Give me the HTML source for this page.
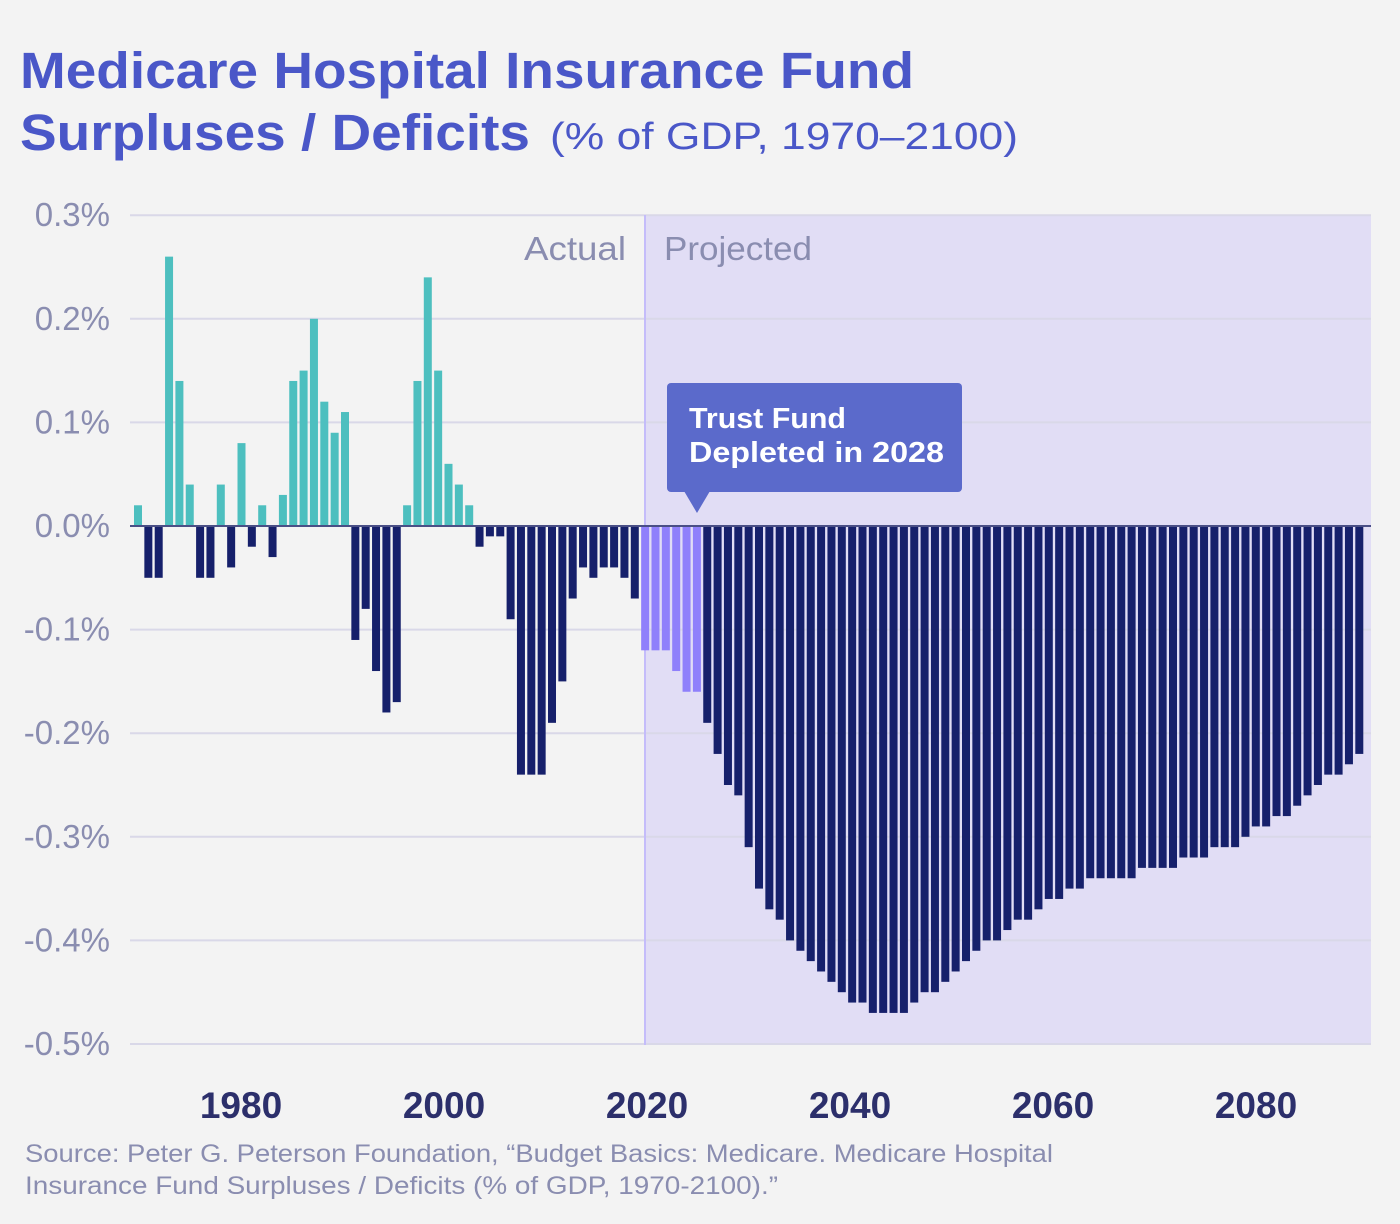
<!DOCTYPE html>
<html><head><meta charset="utf-8"><style>
body{margin:0;background:#f3f3f3;}
svg{display:block;font-family:"Liberation Sans",sans-serif;}
</style></head><body>
<svg id="chart" width="1400" height="1224" viewBox="0 0 1400 1224" xmlns="http://www.w3.org/2000/svg">
<rect width="1400" height="1224" fill="#f3f3f3"/>
<text x="20" y="88" font-size="51" font-weight="bold" fill="#4a57c8" textLength="894" lengthAdjust="spacingAndGlyphs">Medicare Hospital Insurance Fund</text>
<text x="20" y="150" font-size="51" font-weight="bold" fill="#4a57c8" textLength="510" lengthAdjust="spacingAndGlyphs">Surpluses / Deficits</text>
<text x="550" y="149" font-size="38" fill="#4a57c8" textLength="468" lengthAdjust="spacingAndGlyphs">(% of GDP, 1970–2100)</text>
<rect x="645" y="215" width="726" height="830" fill="#e1ddf5"/>
<g id="grid"></g>
<line x1="645" y1="215" x2="645" y2="1045" stroke="#c4bcfa" stroke-width="2"/>
<text x="626" y="260" font-size="33" fill="#8a8db0" text-anchor="end" textLength="102" lengthAdjust="spacingAndGlyphs">Actual</text>
<text x="664" y="260" font-size="33" fill="#8a8db0" textLength="148" lengthAdjust="spacingAndGlyphs">Projected</text>
<g id="bars"></g>
<line x1="130" y1="526" x2="1371" y2="526" stroke="#4a4f86" stroke-width="2"/>
<g id="xlabels"></g>
<g>
<rect x="667" y="383" width="295" height="109" rx="4" fill="#5b6acb"/>
<path d="M684 491 L710 491 L697 513 Z" fill="#5b6acb"/>
<text x="689" y="428" font-size="29" font-weight="bold" fill="#fff" textLength="157" lengthAdjust="spacingAndGlyphs">Trust Fund</text>
<text x="689" y="462" font-size="29" font-weight="bold" fill="#fff" textLength="255" lengthAdjust="spacingAndGlyphs">Depleted in 2028</text>
</g>
<text x="25" y="1162" font-size="25" fill="#8a8db0" textLength="1028" lengthAdjust="spacingAndGlyphs">Source: Peter G. Peterson Foundation, “Budget Basics: Medicare. Medicare Hospital</text>
<text x="25" y="1194" font-size="25" fill="#8a8db0" textLength="753" lengthAdjust="spacingAndGlyphs">Insurance Fund Surpluses / Deficits (% of GDP, 1970-2100).”</text>
</svg>
<script>
const startYear = 1970;
const actualValues = [0.02,-0.05,-0.05,0.26,0.14,0.04,-0.05,-0.05,0.04,-0.04,
0.08,-0.02,0.02,-0.03,0.03,0.14,0.15,0.20,0.12,0.09,
0.11,-0.11,-0.08,-0.14,-0.18,-0.17,0.02,0.14,0.24,0.15,
0.06,0.04,0.02,-0.02,-0.01,-0.01,-0.09,-0.24,-0.24,-0.24,
-0.19,-0.15,-0.07,-0.04,-0.05,-0.04,-0.04,-0.05,-0.07];
const preDepletionValues = [-0.12,-0.12,-0.12,-0.14,-0.16,-0.16];
const postDepletionValues = [-0.19,-0.22,-0.25,-0.26,-0.31,-0.35,-0.37,-0.38,-0.40,-0.41,-0.42,-0.43,-0.44,-0.45,-0.46,-0.46,-0.47,-0.47,-0.47,-0.47,-0.46,-0.45,-0.45,-0.44,-0.43,-0.42,-0.41,-0.40,-0.40,-0.39,-0.38,-0.38,
-0.37,-0.36,-0.36,-0.35,-0.35,-0.34,-0.34,-0.34,-0.34,-0.34,-0.33,-0.33,-0.33,-0.33,-0.32,-0.32,-0.32,-0.31,-0.31,-0.31,-0.30,-0.29,-0.29,-0.28,-0.28,-0.27,-0.26,-0.25,-0.24,-0.24,-0.23,-0.22];
const yTicks = [0.3,0.2,0.1,0.0,-0.1,-0.2,-0.3,-0.4,-0.5];
const yTickLabels = ["0.3%","0.2%","0.1%","0.0%","-0.1%","-0.2%","-0.3%","-0.4%","-0.5%"];
const xTickYears = [1980,2000,2020,2040,2060,2080];

const NS="http://www.w3.org/2000/svg";
function xScale(i){return 138+i*10.35;}
function xLabelScale(yr){return 241+(yr-1980)*10.15;}
function yScale(v){return 526-v*1036;}
function mk(tag,attrs,parent){const e=document.createElementNS(NS,tag);for(const k in attrs)e.setAttribute(k,attrs[k]);parent.appendChild(e);return e;}

const grid=document.getElementById('grid');
yTicks.forEach((t,k)=>{
  const y=yScale(t);
  const l=mk('line',{x1:130,x2:1371,y1:y,y2:y,stroke:'#d9d8e8','stroke-width':2},grid);
  
  
  const tx=mk('text',{x:110,y:y+11,'font-size':33,fill:'#8a8db0','text-anchor':'end'},grid);
  tx.textContent=yTickLabels[k];
  
  
});

const bars=document.getElementById('bars');
function drawBar(i,v,color){
  const y0=yScale(0),y1=yScale(v);
  const r=mk('rect',{x:xScale(i)-4,y:Math.min(y0,y1),width:8,height:Math.abs(y1-y0),fill:color},bars);
  
  
}
actualValues.forEach((v,i)=>drawBar(i,v,v>=0?'#4dbfbf':'#16206b'));
preDepletionValues.forEach((v,j)=>drawBar(actualValues.length+j,v,'#8f80fb'));
postDepletionValues.forEach((v,j)=>drawBar(actualValues.length+preDepletionValues.length+j,v,'#16206b'));

const xl=document.getElementById('xlabels');
xTickYears.forEach(yr=>{
  const t=mk('text',{x:xLabelScale(yr),y:1118,'font-size':37,'font-weight':'bold',fill:'#2c2f6b','text-anchor':'middle'},xl);
  t.textContent=yr;
  
  
});
</script>
</body></html>
